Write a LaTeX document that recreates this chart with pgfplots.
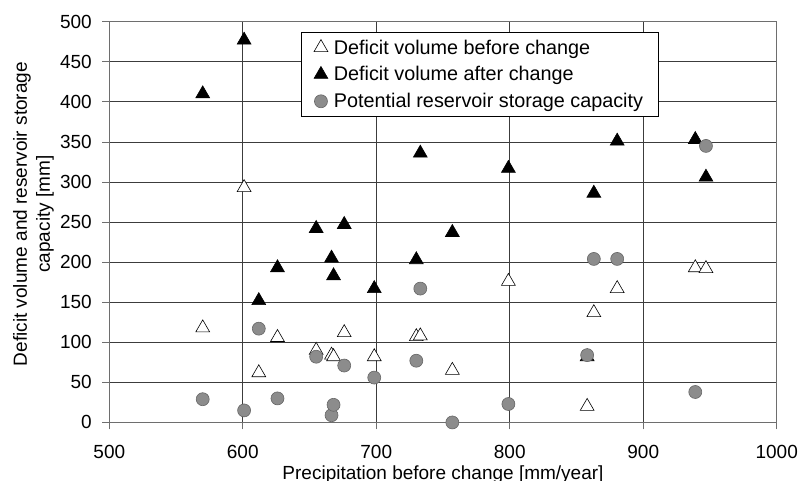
\documentclass[border=0pt]{standalone}
\usepackage{pgfplots}
\pgfplotsset{compat=1.18}
\usepackage{fontspec}
\setmainfont{Liberation Sans}

\definecolor{dotgray}{RGB}{140,140,140}
\definecolor{gridc}{RGB}{60,60,60}
\definecolor{framec}{RGB}{110,110,110}

\newcommand{\chartfont}{\fontsize{19pt}{23pt}\selectfont}
\newcommand{\legfont}{\fontsize{19.8pt}{23pt}\selectfont}

\begin{document}
\begin{tikzpicture}
  \begin{axis}[
    name=ax,
    scale only axis,
    width=667.5pt, height=400.8pt,
    xmin=500, xmax=1000,
    ymin=0, ymax=500,
    xtick={500,600,...,1000},
    ytick={0,50,...,500},
    xtick pos=left, ytick pos=left,
    tick align=outside,
    major tick length=7pt,
    tick style={framec, line width=0.8pt},
    axis line style={framec, line width=0.8pt},
    grid=major,
    major grid style={gridc, line width=0.8pt},
    /pgf/number format/1000 sep={},
    /pgf/number format/assume math mode=true,
    ticklabel style={font=\chartfont},
    xticklabel style={yshift=-15pt, inner ysep=1pt},
    yticklabel style={xshift=-7pt},
    xlabel={Precipitation before change [mm/year]},
    ylabel={Deficit volume and reservoir storage\\capacity [mm]},
    xlabel style={font=\chartfont, at={(axis description cs:0.5,-0.1425)}, anchor=base, inner ysep=1pt},
    ylabel style={font=\chartfont, align=center, at={(axis description cs:-0.1136,0.52)}, anchor=center, rotate=0},
    legend style={at={(0.2867,0.9736)}, anchor=north west, draw=black, line width=0.8pt,
      font=\legfont, row sep=7pt, inner xsep=13pt, inner ysep=5pt},
    legend cell align=left,
  ]
    % deficit volume before change
    \addplot[only marks, mark=triangle*, mark size=8pt,
      mark options={fill=white, draw=black, line width=0.6pt}] coordinates {
      (570,118) (601,293) (612,62) (626,106) (655,90) (666.5,84)
      (668,82) (676,112) (698.5,82) (730,107) (733,108) (757,65)
      (799,176) (858,20) (863,137) (880.5,167) (939,193) (947,192)
    };
    \addlegendentry{\hspace{4pt}Deficit volume before change}
    % deficit volume after change
    \addplot[only marks, mark=triangle*, mark size=8pt,
      mark options={fill=black, draw=black, line width=0.6pt}] coordinates {
      (570,410) (601,477) (612,152) (626,193) (655,242) (666.5,205)
      (668,183) (676,247) (698.5,167) (730,203) (733,336) (757,237)
      (799,317) (858,82) (863,286) (880.5,351) (939,353) (947,306)
    };
    \addlegendentry{\hspace{4pt}Deficit volume after change}
    % potential reservoir storage capacity
    \addplot[only marks, mark=*, mark size=6.5pt,
      mark options={fill=dotgray, draw=black!60, line width=0.6pt}] coordinates {
      (570,29) (601,15) (612,117) (626,30) (655,82) (666.5,9)
      (668,22) (676,71) (698.5,56) (730,77) (733,167) (757,0)
      (799,23) (858,84) (863,204) (880.5,204) (939,38) (947,345)
    };
    \addlegendentry{\hspace{4pt}Potential reservoir storage capacity}
  \end{axis}
  \pgfresetboundingbox
  \path ([xshift=-109.3pt,yshift=-58.5pt]ax.south west) rectangle ([xshift=22.3pt,yshift=21.7pt]ax.north east);
\end{tikzpicture}
\end{document}
